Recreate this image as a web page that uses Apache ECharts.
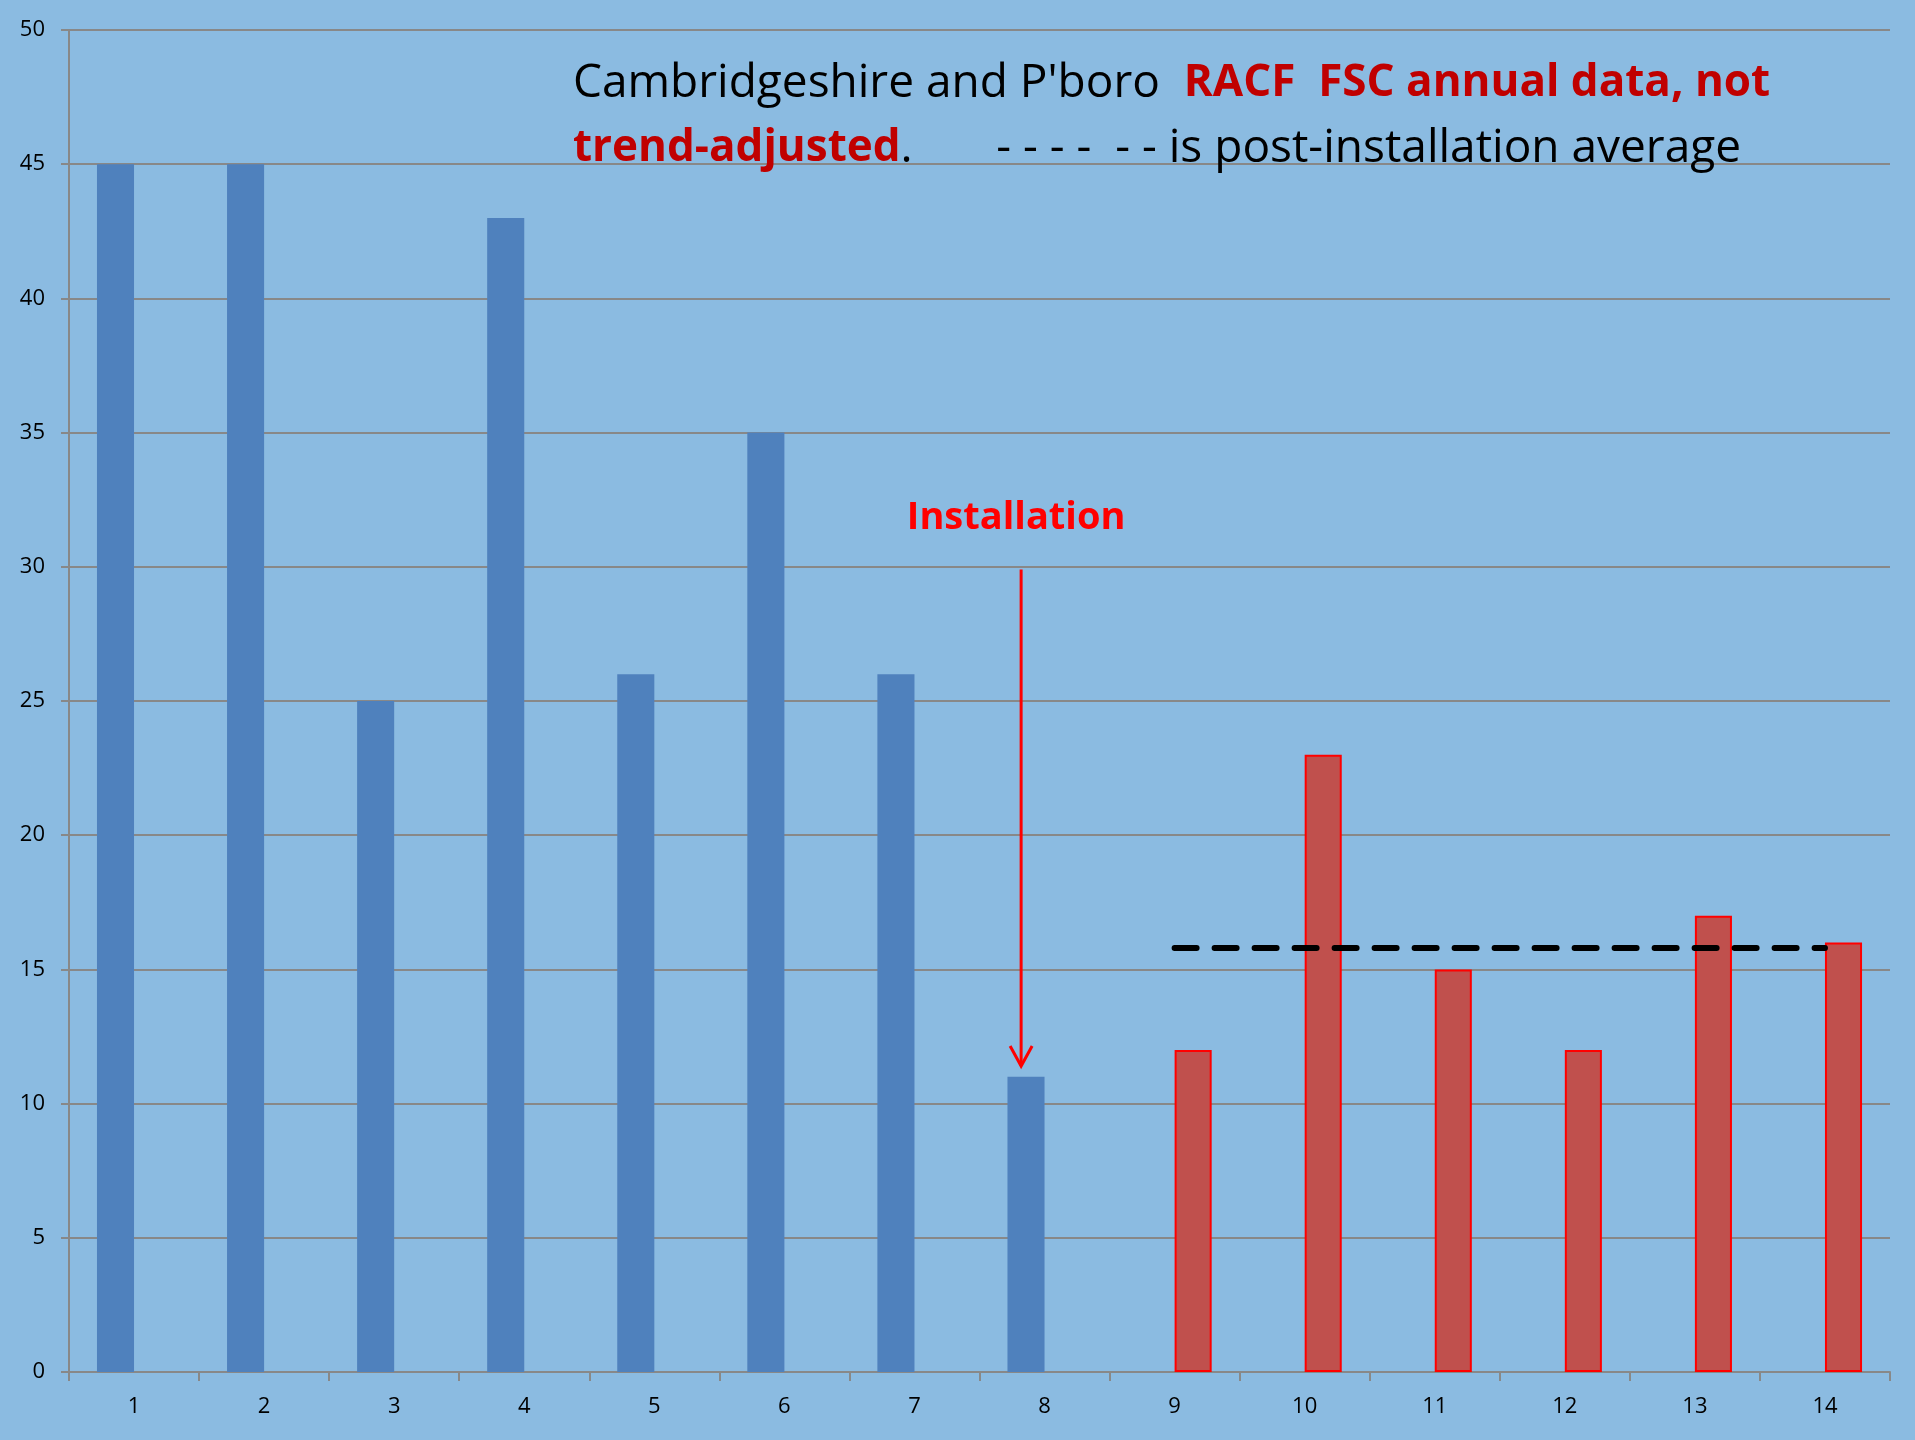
<!DOCTYPE html>
<html>
<head>
<meta charset="utf-8">
<title>RACF FSC annual data</title>
<script src="https://cdn.jsdelivr.net/npm/echarts@6/dist/echarts.min.js"></script>
<style>
    html, body { margin: 0; padding: 0; background: #8bbbe1; }
    #chart { width: 1915px; height: 1440px; }
</style>
</head>
<body>
<div id="chart"></div>
<script>
    // year number along the bottom
    var categories = ["1", "2", "3", "4", "5", "6", "7", "8", "9", "10", "11", "12", "13", "14"];
    // fire service calls before installation
    var preValues = [45, 45, 25, 43, 26, 35, 26, 11, null, null, null, null, null, null];
    // after installation
    var postValues = [null, null, null, null, null, null, null, null, 12, 23, 15, 12, 17, 16];
    // post-installation average, drawn dashed
    var postAverage = [null, null, null, null, null, null, null, null, 15.8, 15.8, 15.8, 15.8, 15.8, 15.8];
    // y axis ticks
    var yTicks = [0, 5, 10, 15, 20, 25, 30, 35, 40, 45, 50];
    // installation arrow: category index, from value, to value, label value
    var installArrow = [7, 29.9, 11.4, 31.8];

    var font = "'Open Sans', 'Noto Sans', sans-serif";
    var chart = echarts.init(document.getElementById("chart"));

    var option = {
        backgroundColor: "#8bbbe1",
        animation: false,
        title: {
            left: 568,
            top: 46,
            text: "{a|Cambridgeshire and P'boro  }{b|RACF  FSC annual data, not}\n" +
                "{b|trend-adjusted}{a|.       - - - -  - - is post-installation average}",
            textStyle: {
                fontWeight: "normal",
                rich: {
                    a: { fontFamily: font, fontSize: 46, fontWeight: "normal", color: "#000", lineHeight: 65 },
                    b: { fontFamily: font, fontSize: 44, fontWeight: "bold", color: "#c00000", lineHeight: 65 }
                }
            }
        },
        grid: {
            left: 69,
            right: 25,
            top: 30,
            bottom: 68
        },
        xAxis: {
            type: "category",
            data: categories,
            axisLine: { lineStyle: { color: "#888", width: 2 } },
            axisTick: { show: true, length: 9, lineStyle: { color: "#888", width: 2 } },
            axisLabel: { fontFamily: font, fontSize: 22, color: "#000", margin: 24 }
        },
        yAxis: {
            type: "value",
            min: yTicks[0],
            max: yTicks[yTicks.length - 1],
            interval: yTicks[1] - yTicks[0],
            axisLine: { show: true, lineStyle: { color: "#888", width: 2 } },
            axisTick: { show: true, length: 8, lineStyle: { color: "#888", width: 2 } },
            axisLabel: { fontFamily: font, fontSize: 22, color: "#000", margin: 24 },
            splitLine: { lineStyle: { color: "#888", width: 2 } }
        },
        series: [
            {
                name: "Before",
                type: "bar",
                data: preValues,
                barGap: "0%",
                barCategoryGap: "43%",
                itemStyle: { color: "#4f81bd" }
            },
            {
                name: "After",
                type: "bar",
                data: postValues,
                barGap: "0%",
                barCategoryGap: "43%",
                itemStyle: { color: "#c0504d", borderColor: "#ff0000", borderWidth: 2 }
            },
            {
                name: "Average",
                type: "line",
                data: postAverage,
                symbol: "none",
                z: 5,
                lineStyle: { color: "#000", width: 6, type: [22, 18], cap: "round" }
            }
        ]
    };
    chart.setOption(option);

    //箭头和文字 - placed from the axis scales
    function drawInstallation() {
        var top = chart.convertToPixel({ xAxisIndex: 0, yAxisIndex: 0 }, [installArrow[0], installArrow[1]]);
        var tip = chart.convertToPixel({ xAxisIndex: 0, yAxisIndex: 0 }, [installArrow[0], installArrow[2]]);
        var lab = chart.convertToPixel({ xAxisIndex: 0, yAxisIndex: 0 }, [installArrow[0], installArrow[3]]);
        var next = chart.convertToPixel({ xAxisIndex: 0, yAxisIndex: 0 }, [installArrow[0] + 1, 0]);
        var band = next[0] - top[0];
        var x = top[0] - band * 0.18;
        chart.setOption({
            graphic: [
                {
                    type: "line",
                    shape: { x1: x, y1: top[1], x2: x, y2: tip[1] },
                    style: { stroke: "#ff0000", lineWidth: 3 },
                    z: 10
                },
                {
                    type: "polyline",
                    shape: { points: [[x - 11, tip[1] - 20], [x, tip[1]], [x + 11, tip[1] - 20]] },
                    style: { stroke: "#ff0000", lineWidth: 3, fill: null },
                    z: 10
                },
                {
                    type: "text",
                    x: x - 5,
                    y: lab[1],
                    style: {
                        text: "Installation",
                        fill: "#ff0000",
                        font: "bold 38px " + font,
                        textAlign: "center",
                        textVerticalAlign: "middle"
                    },
                    z: 10
                }
            ]
        });
    }
    drawInstallation();
</script>
</body>
</html>
